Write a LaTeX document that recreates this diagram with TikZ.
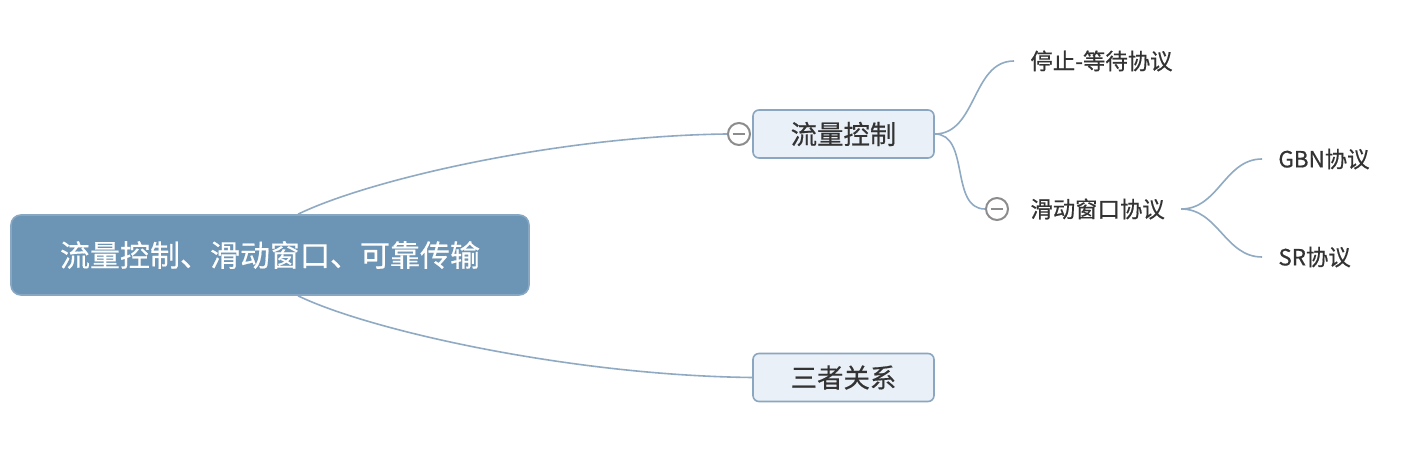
\documentclass[tikz,border=0pt]{standalone}
\usepackage{fontspec}
\setmainfont[FakeBold=0.5]{Noto Sans CJK SC}
\begin{document}
\begin{tikzpicture}[x=0.5pt,y=-0.5pt,
  conn/.style={draw=linec, line width=0.8pt},
  rootbox/.style={draw=rootborder, fill=rootfill, line width=0.8pt, rounded corners=5pt,
    minimum width=259pt, minimum height=40pt, text=white, font=\fontsize{15}{18}\selectfont, inner sep=0pt},
  subbox/.style={draw=subborder, fill=subfill, line width=0.8pt, rounded corners=3pt,
    minimum width=90.5pt, minimum height=24pt, text=textc, font=\fontsize{13.2}{15}\selectfont, inner sep=0pt},
  leaf/.style={anchor=west, inner xsep=8pt, inner ysep=3pt, text=textc, font=\fontsize{11.2}{13}\selectfont},
  fold/.style={circle, draw=foldc, fill=white, line width=1pt, minimum size=11pt, inner sep=0pt}
]
\definecolor{linec}{HTML}{8FAAC2}
\definecolor{rootfill}{HTML}{6C94B4}
\definecolor{rootborder}{HTML}{87A7C2}
\definecolor{subfill}{HTML}{EAF0F7}
\definecolor{subborder}{HTML}{8AA6C0}
\definecolor{textc}{HTML}{333333}
\definecolor{foldc}{HTML}{8C8C8C}
\useasboundingbox[fill=white] (0,0) rectangle (1406,453);

\node[rootbox] (root) at (270,255) {流量控制、滑动窗口、可靠传输};
\node[subbox] (flow) at (843.5,134) {流量控制};
\node[subbox] (rel) at (843.5,377.5) {三者关系};
\node[fold] (c1) at (739,134) {};
\node[fold] (c2) at (997,209) {};
\node[leaf] (stop) at (1014,61) {停止-等待协议};
\node[leaf] (slide) at (1014,209) {滑动窗口协议};
\node[leaf] (gbn) at (1262,159) {GBN协议};
\node[leaf] (sr) at (1262,257) {SR协议};

\draw[foldc, line width=1pt] ([xshift=-3.2pt]c1.center) -- ([xshift=3.2pt]c1.center);
\draw[foldc, line width=1pt] ([xshift=-3.2pt]c2.center) -- ([xshift=3.2pt]c2.center);

\draw[conn] ([xshift=14pt]root.north) .. controls +(72,-35) and +(-168,2) .. (c1.west);
\draw[conn] ([xshift=14pt]root.south) .. controls +(72,35) and +(-180,-2) .. (rel.west);
\draw[conn] (flow.east) to[out=0,in=180] (stop.west);
\draw[conn] (flow.east) to[out=0,in=180] (c2.west);
\draw[conn] (slide.east) to[out=0,in=180] (gbn.west);
\draw[conn] (slide.east) to[out=0,in=180] (sr.west);
\end{tikzpicture}
\end{document}
